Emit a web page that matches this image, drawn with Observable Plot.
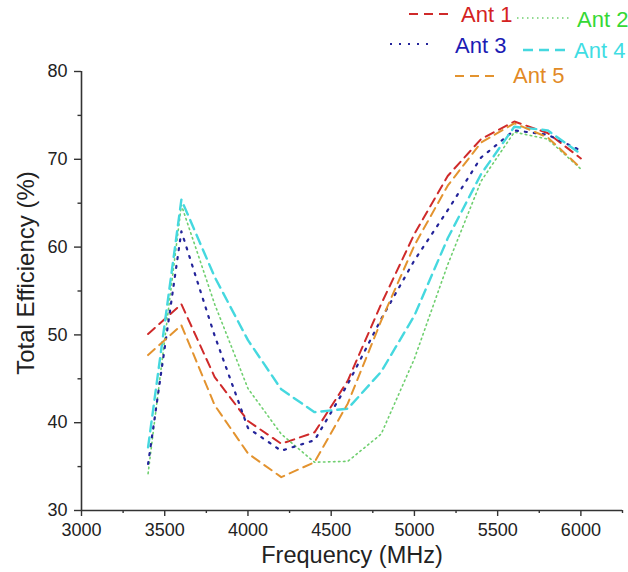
<!DOCTYPE html>
<html><head><meta charset="utf-8">
<script src="https://cdn.jsdelivr.net/npm/d3@7"></script>
<script src="https://cdn.jsdelivr.net/npm/@observablehq/plot@0.6"></script>
<style>
body{margin:0;background:#fff;}
#wrap{position:relative;width:628px;height:572px;font-family:"Liberation Sans",Arial,sans-serif;}
#wrap svg.legend{position:absolute;left:0;top:0;pointer-events:none;}
</style></head><body><div id="wrap"></div>
<script>
// ---- data ----
const freqs = [3400,3600,3800,4000,4200,4400,4600,4800,5000,5200,5400,5600,5800,6000];
const ant1 = [50.1,53.5,45.2,40.2,37.6,38.9,44.8,53.5,61.5,68.1,72.3,74.3,73.0,70.1];
const ant2 = [34.2,64.8,53.5,43.9,38.7,35.5,35.6,38.7,47.3,58.0,67.5,73.1,72.3,68.9];
const ant3 = [35.3,61.8,49.9,39.4,36.8,38.0,44.4,51.8,58.5,64.2,70.2,73.3,72.8,71.0];
const ant4 = [37.2,65.4,56.6,49.4,43.8,41.2,41.6,45.8,52.2,61.0,68.3,73.7,73.3,70.6];
const ant5 = [47.7,51.1,42.0,36.5,33.8,35.5,42.2,51.6,60.2,67.0,71.9,74.1,72.5,69.0];
const seriesNames = ["Ant 1","Ant 2","Ant 3","Ant 4","Ant 5"];
const seriesValues = [ant1, ant2, ant3, ant4, ant5];
const xMajorTicks = [3000,3500,4000,4500,5000,5500,6000];
const xMinorTicks = [3250,3750,4250,4750,5250,5750,6250];
const yMajorTicks = [30,40,50,60,70,80];
const yMinorTicks = [35,45,55,65,75];

// ---- styles ----
const lineColors = ["#cf2a2a","#6fcf6f","#24249a","#45d8df","#e3932f"];
const textColors = ["#d42222","#35d835","#1c1cb4","#3fdde3","#e28a25"];
const dashes = ["9,6","1.5,3.5","2,7","10,6","9,6"];
const widths = [2,1.6,2.2,2.4,2];

const rows = seriesNames.flatMap((name, i) =>
  freqs.map((f, j) => ({series: name, freq: f, eff: seriesValues[i][j]})));

const font = '"Liberation Sans", Arial, sans-serif';
const axisColor = "#333";

const chart = Plot.plot({
  width: 628, height: 572,
  marginLeft: 81, marginRight: 6, marginTop: 71, marginBottom: 62,
  style: {fontFamily: font, fontSize: "18px", color: "#222", background: "#fff"},
  x: {domain: [3000, 6250], label: null},
  y: {domain: [30, 80], label: null},
  marks: [
    ...seriesNames.map((name, i) => Plot.line(rows.filter(d => d.series === name), {
      x: "freq", y: "eff", stroke: lineColors[i], strokeWidth: widths[i],
      strokeDasharray: dashes[i], strokeLinejoin: "round"
    })),
    Plot.ruleY([30], {stroke: axisColor, strokeWidth: 1.6}),
    Plot.ruleX([3000], {stroke: axisColor, strokeWidth: 1.6}),
    Plot.axisX({ticks: xMajorTicks, tickSize: 6, tickPadding: 7, fontSize: 18,
      tickFormat: d3.format("d"), stroke: axisColor, strokeWidth: 1.4, fill: "#222", label: null}),
    Plot.axisX({ticks: xMinorTicks, tickSize: 3, tickFormat: () => "", stroke: axisColor, strokeWidth: 1.4, label: null}),
    Plot.axisY({ticks: yMajorTicks, tickSize: 7, tickPadding: 7, fontSize: 18,
      tickFormat: d3.format("d"), stroke: axisColor, strokeWidth: 1.4, fill: "#222", label: null}),
    Plot.axisY({ticks: yMinorTicks, tickSize: 3.5, tickFormat: () => "", stroke: axisColor, strokeWidth: 1.4, label: null}),
    Plot.text(["Frequency (MHz)"], {text: d => d, frameAnchor: "bottom", dy: 45,
      textAnchor: "middle", lineAnchor: "middle", fontSize: 23.5, fill: "#222"}),
    Plot.text(["Total Efficiency (%)"], {text: d => d, frameAnchor: "left", dx: -55, dy: -18, rotate: -90,
      textAnchor: "middle", lineAnchor: "middle", fontSize: 24, fill: "#222"})
  ]
});
document.getElementById("wrap").appendChild(chart);

// ---- legend (overlay, top right) ----
const legendItems = [
  {x1: 409, x2: 452, ly: 14, tx: 461, ty: 22},
  {x1: 517, x2: 570, ly: 18, tx: 577, ty: 27},
  {x1: 390, x2: 432, ly: 44, tx: 455, ty: 53},
  {x1: 523, x2: 565, ly: 50, tx: 574, ty: 58},
  {x1: 455, x2: 497, ly: 76, tx: 513, ty: 83}
];
const leg = d3.create("svg").attr("class", "legend").attr("width", 628).attr("height", 100)
  .attr("font-family", font);
legendItems.forEach((p, i) => {
  leg.append("line").attr("x1", p.x1).attr("x2", p.x2).attr("y1", p.ly).attr("y2", p.ly)
    .attr("stroke", lineColors[i]).attr("stroke-width", widths[i]).attr("stroke-dasharray", dashes[i]);
  leg.append("text").attr("x", p.tx).attr("y", p.ty).attr("font-size", 22)
    .attr("fill", textColors[i]).text(seriesNames[i]);
});
document.getElementById("wrap").appendChild(leg.node());
</script></body></html>
